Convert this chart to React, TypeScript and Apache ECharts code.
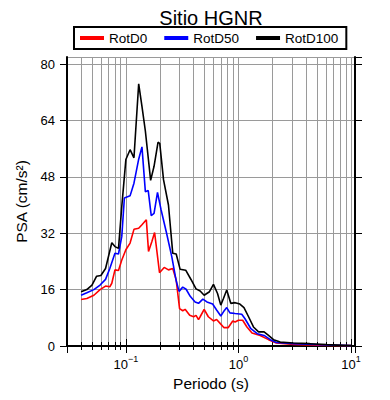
import React, { useEffect, useRef } from 'react';
import * as echarts from 'echarts';

// RotD0 (red)
const periods0 = [0.04, 0.045, 0.052, 0.059, 0.066, 0.072, 0.075, 0.08, 0.086, 0.092, 0.1, 0.109, 0.118, 0.13, 0.139, 0.152, 0.159, 0.17, 0.18, 0.199, 0.219, 0.239, 0.261, 0.28, 0.3, 0.32, 0.336, 0.369, 0.4, 0.42, 0.442, 0.457, 0.496, 0.54, 0.6, 0.64, 0.697, 0.745, 0.81, 0.89, 0.934, 1.0, 1.09, 1.19, 1.32, 1.56, 1.85, 2.17, 3.08, 6.1, 10];
const rotD0 = [13.2, 13.5, 14.4, 16.0, 17.0, 16.8, 17.8, 21.6, 21.4, 24.4, 27.3, 29.2, 33.1, 33.4, 34.4, 35.8, 26.8, 29.6, 32.2, 20.8, 22.3, 21.6, 22.0, 18.7, 10.6, 10.0, 10.4, 8.7, 8.3, 8.7, 7.5, 8.3, 10.4, 8.3, 7.1, 7.5, 6.2, 5.2, 5.2, 7.1, 6.8, 7.3, 7.3, 5.4, 3.7, 3.0, 1.8, 0.85, 0.47, 0.19, 0.1];

// RotD50 (blue)
const periods50 = [0.04, 0.045, 0.052, 0.059, 0.066, 0.072, 0.08, 0.086, 0.092, 0.097, 0.109, 0.118, 0.13, 0.139, 0.149, 0.158, 0.168, 0.178, 0.191, 0.205, 0.23, 0.256, 0.28, 0.297, 0.32, 0.343, 0.373, 0.412, 0.442, 0.483, 0.525, 0.59, 0.64, 0.697, 0.736, 0.787, 0.84, 0.934, 1.07, 1.14, 1.29, 1.47, 1.69, 1.92, 2.17, 3.08, 6.1, 10];
const rotD50 = [14.4, 15.1, 16.0, 17.3, 18.9, 22.0, 26.3, 26.1, 31.1, 42.0, 42.6, 46.2, 53.0, 56.5, 43.8, 44.1, 37.0, 37.6, 43.6, 38.8, 32.0, 25.3, 18.5, 15.5, 16.7, 16.1, 14.1, 12.5, 12.1, 13.3, 12.5, 11.9, 10.2, 8.5, 9.7, 10.9, 9.4, 9.2, 9.0, 7.8, 4.9, 3.5, 3.0, 1.8, 1.0, 0.66, 0.28, 0.1];

// RotD100 (black)
const periods100 = [0.04, 0.045, 0.05, 0.055, 0.06, 0.066, 0.075, 0.08, 0.086, 0.092, 0.1, 0.109, 0.118, 0.13, 0.139, 0.149, 0.166, 0.178, 0.193, 0.2, 0.216, 0.239, 0.261, 0.28, 0.303, 0.34, 0.38, 0.42, 0.457, 0.496, 0.553, 0.6, 0.652, 0.697, 0.736, 0.787, 0.855, 0.934, 1.03, 1.12, 1.23, 1.36, 1.51, 1.69, 1.85, 2.05, 2.35, 3.08, 4.3, 6.1, 8.5, 10];
const rotD100 = [15.4, 16.0, 17.3, 19.8, 20.0, 22.0, 29.3, 28.2, 27.7, 39.6, 52.9, 55.7, 53.4, 74.4, 68.0, 61.0, 47.0, 51.0, 57.8, 57.5, 47.2, 40.0, 26.3, 26.1, 21.8, 21.5, 18.8, 16.2, 15.6, 14.4, 15.4, 17.5, 14.9, 11.6, 13.5, 15.9, 12.1, 12.3, 11.9, 10.9, 8.3, 5.4, 4.0, 4.0, 3.0, 1.8, 1.1, 0.85, 0.66, 0.38, 0.19, 0.1];

const seriesNames = ['RotD0', 'RotD50', 'RotD100'];
const seriesColors = ['#ff0000', '#0000ff', '#000000'];
const yTicks = [0, 16, 32, 48, 64, 80];

const FONT = '"Liberation Sans", Arial, Helvetica, sans-serif';

export default function App() {
  const ref = useRef<HTMLDivElement>(null);
  useEffect(() => {
    const chart = echarts.init(ref.current!, null, { renderer: 'svg' });
    const pair = (t: number[], v: number[]) => t.map((x, i) => [x, v[i]]);
    const xLabel = (v: number) => {
      const e = Math.log10(v);
      const r = Math.round(e);
      if (Math.abs(e - r) > 1e-6) return '';
      return `{b|10}{s|${r < 0 ? '\u2212' + -r : r}}`;
    };
    const axisLine = { show: true, lineStyle: { color: '#000', width: 2 } };
    const gridLine = { show: true, lineStyle: { color: '#9a9a9a', width: 1 } };
    const logBase = {
      type: 'log',
      logBase: 10,
      min: 0.03,
      max: 10.85,
      axisLine,
      axisTick: { show: true, inside: false, length: 7, lineStyle: { color: '#000', width: 1 } },
      minorTick: { show: true, splitNumber: 9, length: 4, lineStyle: { color: '#000', width: 1 } },
    };
    const yBase = {
      type: 'value',
      min: 0,
      max: 82,
      interval: 16,
      axisLine,
      axisTick: { show: true, inside: false, length: 7, lineStyle: { color: '#000', width: 1 } },
    };
    const datasets = [pair(periods0, rotD0), pair(periods50, rotD50), pair(periods100, rotD100)];
    chart.setOption({
      animation: false,
      title: {
        text: 'Sitio HGNR',
        left: 211,
        top: 8,
        textAlign: 'center',
        padding: 0,
        textStyle: { fontFamily: FONT, fontSize: 20, fontWeight: 'normal', color: '#000' },
      },
      legend: {
        left: 74,
        top: 27,
        orient: 'horizontal',
        icon: 'rect',
        itemWidth: 24,
        itemHeight: 4,
        itemGap: 17,
        borderColor: '#000',
        borderWidth: 2,
        padding: [4, 8, 4, 6],
        textStyle: { fontFamily: FONT, fontSize: 13.5, color: '#000' },
        data: seriesNames,
      },
      grid: { left: 67, right: 35, top: 57, bottom: 54 },
      xAxis: [
        {
          ...logBase,
          position: 'bottom',
          name: 'Periodo (s)',
          nameLocation: 'middle',
          nameGap: 28,
          nameTextStyle: { fontFamily: FONT, fontSize: 15.5, color: '#000' },
          axisLabel: {
            margin: 8,
            formatter: xLabel,
            rich: {
              b: { fontFamily: FONT, fontSize: 13, color: '#000', lineHeight: 20 },
              s: { fontFamily: FONT, fontSize: 9, color: '#000', verticalAlign: 'top', lineHeight: 20 },
            },
          },
          splitLine: gridLine,
          minorSplitLine: gridLine,
        },
        {
          ...logBase,
          position: 'top',
          axisLabel: { show: false },
          splitLine: { show: false },
          minorSplitLine: { show: false },
        },
      ],
      yAxis: [
        {
          ...yBase,
          position: 'left',
          name: 'PSA (cm/s\u00b2)',
          nameLocation: 'middle',
          nameGap: 27,
          nameTextStyle: { fontFamily: FONT, fontSize: 15.5, color: '#000' },
          axisLabel: {
            margin: 12,
            fontFamily: FONT,
            fontSize: 13,
            color: '#000',
            showMaxLabel: false,
            formatter: (v: number) => (yTicks.includes(v) ? String(v) : ''),
          },
          splitLine: gridLine,
        },
        {
          ...yBase,
          position: 'right',
          axisLabel: { show: false },
          splitLine: { show: false },
        },
      ],
      series: seriesNames.map((name, i) => ({
        name,
        type: 'line',
        xAxisIndex: 0,
        yAxisIndex: 0,
        data: datasets[i],
        showSymbol: false,
        symbol: 'none',
        color: seriesColors[i],
        lineStyle: { color: seriesColors[i], width: 1.6 },
        z: 3 + i,
      })),
    });
    return () => chart.dispose();
  }, []);
  return <div ref={ref} style={{ position: 'absolute', left: 0, top: 0, width: 390, height: 400 }} />;
}
